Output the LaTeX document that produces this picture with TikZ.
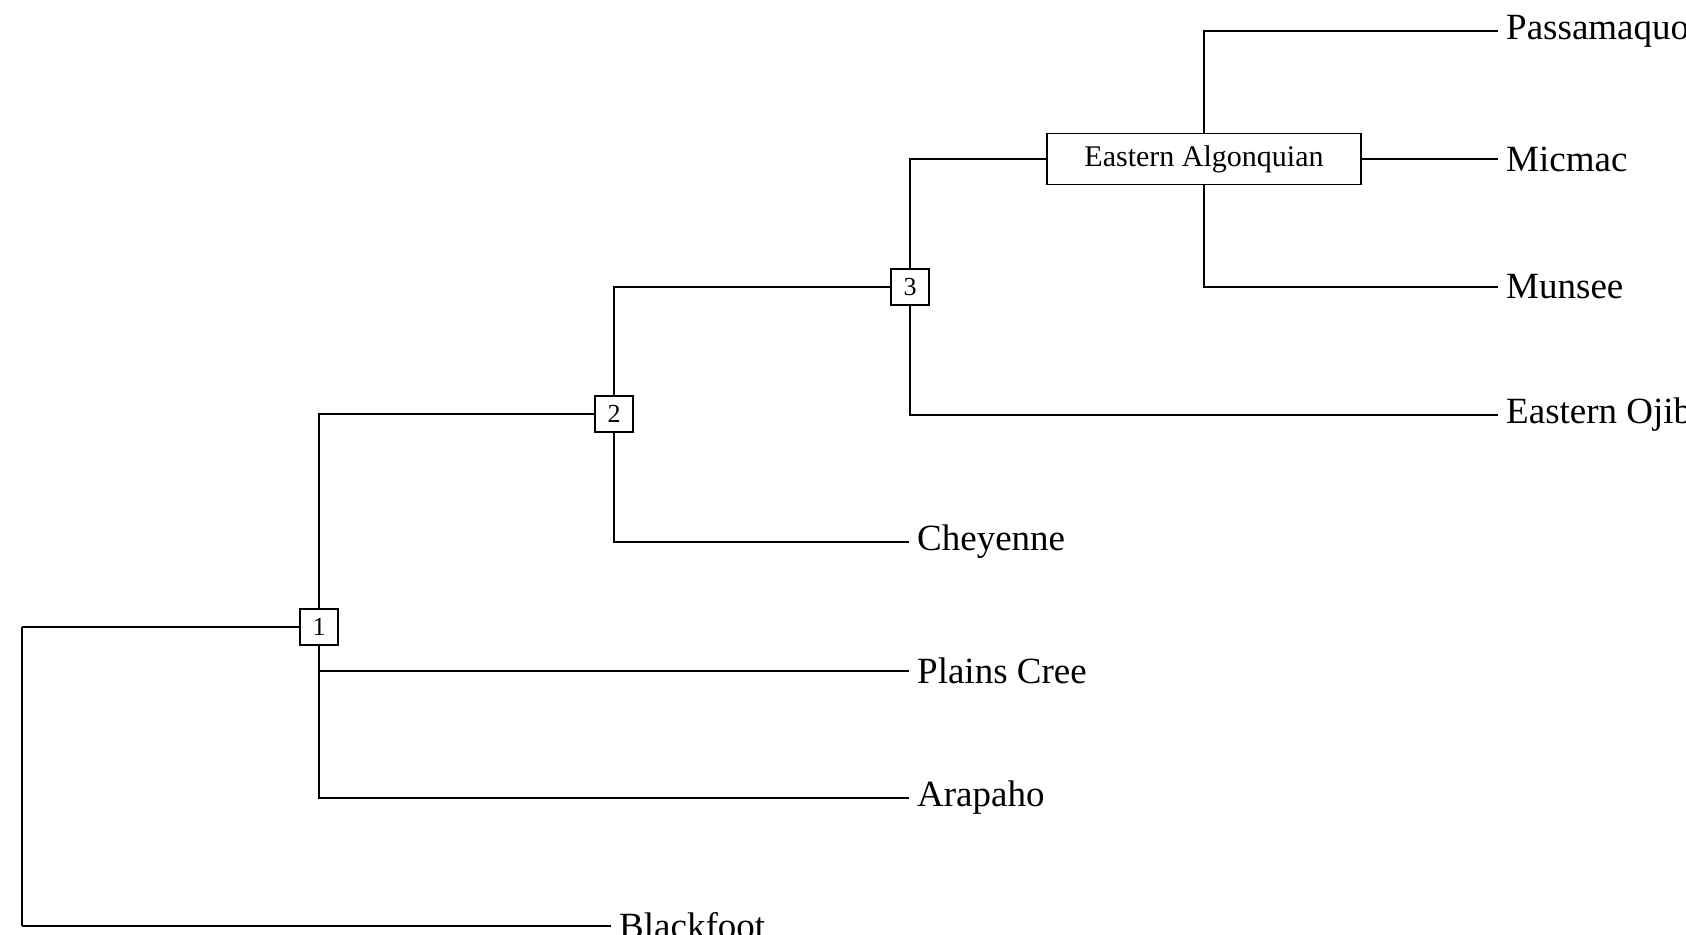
\documentclass[tikz,border=0pt]{standalone}
\usepackage{fontspec}
\setmainfont{Liberation Serif}
\begin{document}
\begin{tikzpicture}[x=1pt,y=-1pt,
  leaf/.style={anchor=west,inner xsep=8pt,inner ysep=0pt,font=\fontsize{37}{42}\selectfont},
  num/.style={draw,line width=1.4pt,minimum width=38pt,minimum height=36pt,inner sep=0pt,font=\fontsize{26}{30}\selectfont},
  thick line/.style={line width=1.6pt},
  thin line/.style={line width=1.1pt}]
\useasboundingbox (0,0) rectangle (1686,934);
\node[num] (b1) at (319,627) {1};
\node[num] (b2) at (614,414) {2};
\node[num] (b3) at (910,287) {3};
\node[draw,line width=1.4pt,minimum width=314pt,minimum height=51pt,font=\fontsize{30}{34}\selectfont] (ea) at (1204,159) {Eastern Algonquian};
\node[leaf] (pa) at (1498,31) {Passamaquoddy};
\node[leaf] (mi) at (1498,159) {Micmac};
\node[leaf] (mu) at (1498,287) {Munsee};
\node[leaf] (oj) at (1498,415) {Eastern Ojibwe};
\node[leaf] (ch) at (909,542) {Cheyenne};
\node[leaf] (pc) at (909,671) {Plains Cree};
\node[leaf] (ar) at (909,798) {Arapaho};
\node[leaf] (bf) at (611,926) {Blackfoot};
\coordinate (root) at (22,627);
\draw[thick line] (b1.west) -- (root);
\draw[thick line] (root) -- (22,926);
\draw[thin line] (22,926) -- (bf.west);
\draw[thick line] (b1.north) |- (b2.west);
\draw[thin line] (b1.south) |- (pc.west);
\draw[thin line] (b1.south) |- (ar.west);
\draw[thick line] (b2.north) |- (b3.west);
\draw[thin line] (b2.south) |- (ch.west);
\draw[thick line] (b3.north) |- (ea.west);
\draw[thick line] (b3.south) |- (oj.west);
\draw[thick line] (ea.north) |- (pa.west);
\draw[thick line] (ea.east) -- (mi.west);
\draw[thick line] (ea.south) |- (mu.west);
\end{tikzpicture}
\end{document}
